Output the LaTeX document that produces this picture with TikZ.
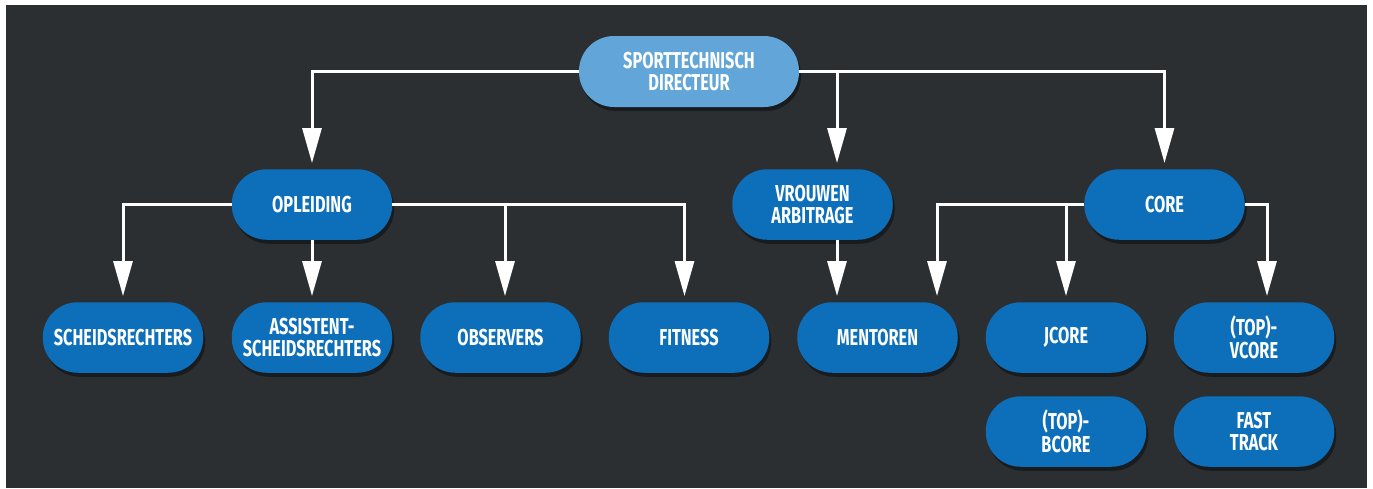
\documentclass[tikz,border=0pt]{standalone}
\usepackage{fontspec}
\newfontfamily\orgfont[FakeStretch=0.71]{Fira Sans}
\usetikzlibrary{arrows.meta,shadows}
\definecolor{bgdark}{HTML}{2B2F32}
\definecolor{unitblue}{HTML}{0D6FB9}
\definecolor{headblue}{HTML}{62A6D9}
\begin{document}
\begin{tikzpicture}[x=1pt,y=-1pt,
    unit/.style={rectangle,rounded corners=35pt,fill=unitblue,text=white,
      minimum width=160.5pt,minimum height=70.5pt,inner sep=0pt,align=center,
      font=\orgfont\bfseries\fontsize{23}{22.5}\selectfont,
      drop shadow={shadow xshift=2pt,shadow yshift=-4pt,opacity=0.4,fill=black}},
    head/.style={unit,fill=headblue,minimum width=220pt,minimum height=71pt},
    link/.style={draw=white,line width=3pt,-{Triangle[length=35pt,width=19pt]},shorten >=6pt}]
      \useasboundingbox (0,0) rectangle (1373,488);
      \fill[white] (0,0) rectangle (1373,488);
      \fill[bgdark] (6,5) rectangle (1367,488);
      \node[head] (std) at (689,71.5) {SPORTTECHNISCH\\DIRECTEUR};
      \node[unit] (opl) at (312,204.5) {OPLEIDING};
      \node[unit] (vra) at (812.5,204.5) {VROUWEN\\ARBITRAGE};
      \node[unit] (core) at (1164.5,204.5) {CORE};
      \node[unit] (sch) at (123,337.5) {SCHEIDSRECHTERS};
      \node[unit] (ass) at (312,337.5) {ASSISTENT-\\SCHEIDSRECHTERS};
      \node[unit] (obs) at (500.5,337.5) {OBSERVERS};
      \node[unit] (fit) at (689,337.5) {FITNESS};
      \node[unit] (men) at (877.5,337.5) {MENTOREN};
      \node[unit] (jcore) at (1066,337.5) {JCORE};
      \node[unit] (vcore) at (1254,337.5) {(TOP)-\\VCORE};
      \node[unit] (bcore) at (1066,431.5) {(TOP)-\\BCORE};
      \node[unit] (fast) at (1254,431.5) {FAST\\TRACK};
      \begin{scope}[link]
        \draw (std.west) -| (opl.north);
        \draw (std.east) -| ([xshift=24.5pt]vra.north);
        \draw (std.east) -| (core.north);
        \draw (opl.west) -| (sch.north);
        \draw (opl.south) -- (ass.north);
        \draw (opl.east) -| ([xshift=4.5pt]obs.north);
        \draw (opl.east) -| ([xshift=-4.5pt]fit.north);
        \draw ([xshift=24.5pt]vra.south) -- ([xshift=-40.5pt]men.north);
        \draw (core.west) -| ([xshift=59.5pt]men.north);
        \draw (core.west) -| (jcore.north);
        \draw (core.east) -| ([xshift=13pt]vcore.north);
      \end{scope}
    \end{tikzpicture}
\end{document}
